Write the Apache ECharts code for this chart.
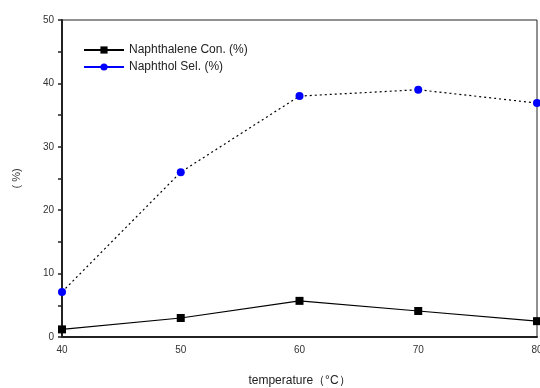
<!DOCTYPE html>
<html>
<head>
<meta charset="utf-8">
<title>Naphthalene</title>
<script src="https://cdn.jsdelivr.net/npm/echarts@6/dist/echarts.min.js"></script>
<style>
  html, body { margin: 0; padding: 0; background: #fff; }
  #chart { width: 540px; height: 388px; }
</style>
</head>
<body>
<div id="chart"></div>
<script>
// temperature (°C)
var temps = [40, 50, 60, 70, 80];
var naphthaleneCon = [1.2, 3.0, 5.7, 4.1, 2.5];
var naphtholSel = [7.1, 26.0, 38.0, 39.0, 36.9];

function pairs(xs, ys) {
    return xs.map(function (x, i) { return [x, ys[i]]; });
}

var myChart = echarts.init(document.getElementById('chart'));
var font = 'Liberation Sans, Arial, sans-serif';

myChart.setOption({
    animation: false,
    grid: {
        left: 62, right: 3, top: 20, bottom: 51,
        outerBoundsMode: 'none',
        show: true, borderColor: '#222', borderWidth: 1
    },
    legend: {
        orient: 'vertical',
        left: 78, top: 39,
        itemWidth: 40, itemHeight: 9, itemGap: 5,
        textStyle: { fontFamily: font, fontSize: 12, color: '#222' },
        data: [
            { name: 'Naphthalene Con. (%)' },
            { name: 'Naphthol Sel. (%)',
              itemStyle: { color: '#0000ff' },
              lineStyle: { color: '#0000ff', type: 'solid' } }
        ]
    },
    xAxis: {
        type: 'value', min: 40, max: 80, interval: 10,
        name: 'temperature（°C）', nameLocation: 'middle', nameGap: 38,
        nameTextStyle: { fontFamily: font, fontSize: 12, color: '#222' },
        axisLine: { lineStyle: { color: '#222', width: 2 } },
        axisTick: { show: false },
        splitLine: { show: false },
        axisLabel: { fontFamily: font, fontSize: 10, color: '#333', margin: 8 }
    },
    yAxis: {
        type: 'value', min: 0, max: 50, interval: 10,
        name: '( %)', nameLocation: 'middle', nameGap: 40,
        nameTextStyle: { fontFamily: font, fontSize: 11, color: '#333' },
        axisLine: { lineStyle: { color: '#222', width: 2 } },
        axisTick: { show: true, length: 4, lineStyle: { color: '#222', width: 1.5 } },
        minorTick: { show: true, splitNumber: 2, length: 4, lineStyle: { color: '#222', width: 1.5 } },
        splitLine: { show: false },
        axisLabel: { fontFamily: font, fontSize: 10, color: '#333', margin: 8 }
    },
    series: [
        {
            name: 'Naphthalene Con. (%)',
            type: 'line',
            data: pairs(temps, naphthaleneCon),
            symbol: 'rect', symbolSize: 8,
            itemStyle: { color: '#000' },
            lineStyle: { color: '#000', width: 1.2 }
        },
        {
            name: 'Naphthol Sel. (%)',
            type: 'line',
            data: pairs(temps, naphtholSel),
            symbol: 'circle', symbolSize: 8,
            itemStyle: { color: '#0000ff' },
            lineStyle: { color: '#000', width: 1.2, type: [2, 3] }
        }
    ]
});
</script>
</body>
</html>
